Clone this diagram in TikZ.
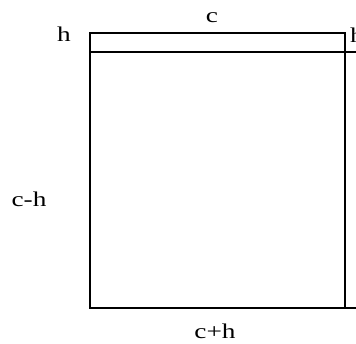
\documentclass[tikz,border=0pt]{standalone}
\usepackage{fontspec}
\setmainfont{Liberation Serif}
\usetikzlibrary{positioning}
\newcommand{\widetext}[1]{\scalebox{1.3}[1]{#1}}
\tikzset{
    side/.style={line width=2pt, black},
    lbl/.style={font=\fontsize{21}{21}\selectfont, inner sep=0pt, anchor=base}
}

\begin{document}
\begin{tikzpicture}[x=1pt, y=1pt]
    \clip (0,0) rectangle (356,344);

    % 1. CORNERS
    \coordinate (stripNW) at (90,311);
    \coordinate (stripNE) at (345,311);
    \coordinate (sqNW) at (90,292);
    \coordinate (sqSW) at (90,36);
    \coordinate (sqSE) at (345,36);
    \coordinate (farN) at (400,292);
    \coordinate (farS) at (400,36);

    % 2. STRIP c x h ON TOP
    \draw[side] (sqNW) rectangle (stripNE);

    % 3. LARGE RECTANGLE (c+h) x (c-h), runs past the right edge
    \draw[side] (farN) -- (sqNW) -- (sqSW) -- (farS);
    \draw[side] (stripNE) -- (sqSE);

    % 4. LABELS
    \node[lbl] (lc) at (212,321) {\widetext{c}};
    \node[lbl] (lhl) at (64,302) {\widetext{h}};
    \node[lbl] (lhr) at (357,301) {\widetext{h}};
    \node[lbl] (lcmh) at (29,137) {\widetext{c-h}};
    \node[lbl] (lcph) at (215,5) {\widetext{c+h}};
\end{tikzpicture}
\end{document}
